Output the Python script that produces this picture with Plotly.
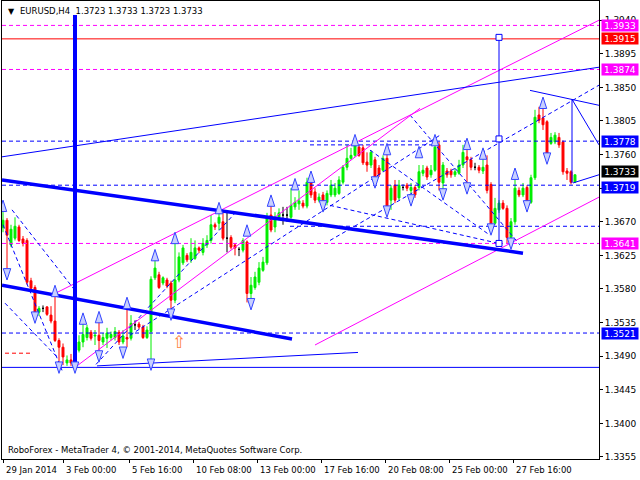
import plotly.graph_objects as go

# ---------------- data ----------------
opens = [1.3662,1.3672,1.3639,1.3648,1.3663,1.3647,1.3645,1.3591,1.3582,1.3549,
         1.3554,1.3556,1.3545,1.3537,1.3511,1.3502,1.3481,1.3485,1.3482,1.3498,
         1.3509,1.3515,1.3522,1.3517,1.3518,1.3509,1.3514,1.3515,1.3515,1.3522,
         1.3509,1.3515,1.3514,1.3532,1.3533,1.3529,1.3515,1.3523,1.3595,1.3599,
         1.3588,1.3592,1.3588,1.3565,1.3592,1.3615,1.3625,1.3619,1.3621,1.3635,
         1.3629,1.3639,1.3645,1.3666,1.3668,1.3670,1.3648,1.3649,1.3639,1.3633,
         1.3632,1.3643,1.3574,1.3582,1.3589,1.3605,1.3615,1.3679,1.3663,1.3676,
         1.3679,1.3679,1.3676,1.3690,1.3694,1.3695,1.3691,1.3723,1.3710,1.3699,
         1.3706,1.3696,1.3706,1.3706,1.3708,1.3723,1.3743,1.3755,1.3759,1.3770,
         1.3769,1.3750,1.3746,1.3753,1.3742,1.3739,1.3755,1.3699,1.3719,1.3702,
         1.3716,1.3719,1.3712,1.3716,1.3716,1.3735,1.3742,1.3733,1.3739,1.3773,
         1.3722,1.3738,1.3738,1.3733,1.3735,1.3746,1.3757,1.3753,1.3743,1.3743,
         1.3738,1.3746,1.3720,1.3668,1.3686,1.3695,1.3688,1.3649,1.3670,1.3712,
         1.3706,1.3716,1.3696,1.3729,1.3813,1.3809,1.3804,1.3775,1.3777,1.3783,
         1.3777,1.3738,1.3737,1.3723]
highs = [1.3683,1.3675,1.3666,1.3676,1.3666,1.3651,1.3648,1.3595,1.3585,1.3557,
         1.3558,1.3557,1.3557,1.3572,1.3514,1.3507,1.3491,1.3493,1.3511,1.3518,
         1.3534,1.3532,1.3525,1.3525,1.3538,1.3521,1.3528,1.3523,1.3529,1.3525,
         1.3525,1.3554,1.3545,1.3538,1.3536,1.3532,1.3530,1.3597,1.3619,1.3603,
         1.3597,1.3595,1.3591,1.3645,1.3629,1.3639,1.3628,1.3648,1.3645,1.3637,
         1.3648,1.3652,1.3679,1.3669,1.3686,1.3682,1.3682,1.3652,1.3641,1.3636,
         1.3648,1.3645,1.3596,1.3603,1.3616,1.3623,1.3682,1.3692,1.3683,1.3688,
         1.3690,1.3690,1.3715,1.3703,1.3712,1.3699,1.3729,1.3729,1.3715,1.3708,
         1.3710,1.3712,1.3726,1.3722,1.3731,1.3746,1.3773,1.3769,1.3782,1.3773,
         1.3773,1.3763,1.3766,1.3757,1.3746,1.3759,1.3763,1.3719,1.3726,1.3726,
         1.3720,1.3722,1.3722,1.3719,1.3746,1.3746,1.3745,1.3746,1.3775,1.3777,
         1.3750,1.3742,1.3741,1.3741,1.3753,1.3773,1.3766,1.3757,1.3749,1.3746,
         1.3757,1.3759,1.3723,1.3702,1.3699,1.3699,1.3692,1.3675,1.3729,1.3716,
         1.3722,1.3719,1.3733,1.3820,1.3824,1.3826,1.3806,1.3789,1.3790,1.3789,
         1.3779,1.3742,1.3739,1.3733]
lows = [1.3656,1.3601,1.3636,1.3645,1.3643,1.3637,1.3586,1.3576,1.3542,1.3544,
        1.3549,1.3544,1.3534,1.3509,1.3478,1.3478,1.3477,1.3477,1.3475,1.3495,
        1.3502,1.3511,1.3511,1.3505,1.3494,1.3505,1.3501,1.3511,1.3511,1.3505,
        1.3506,1.3502,1.3511,1.3525,1.3526,1.3513,1.3513,1.3482,1.3592,1.3580,
        1.3585,1.3581,1.3549,1.3561,1.3589,1.3612,1.3616,1.3615,1.3619,1.3628,
        1.3625,1.3635,1.3641,1.3659,1.3659,1.3645,1.3629,1.3633,1.3625,1.3624,
        1.3629,1.3562,1.3562,1.3579,1.3585,1.3603,1.3612,1.3656,1.3656,1.3672,
        1.3666,1.3670,1.3674,1.3686,1.3686,1.3688,1.3688,1.3702,1.3695,1.3696,
        1.3692,1.3692,1.3703,1.3703,1.3706,1.3720,1.3739,1.3753,1.3757,1.3757,
        1.3746,1.3737,1.3742,1.3726,1.3730,1.3737,1.3682,1.3686,1.3695,1.3699,
        1.3712,1.3711,1.3708,1.3702,1.3712,1.3731,1.3726,1.3729,1.3737,1.3712,
        1.3708,1.3729,1.3729,1.3730,1.3733,1.3742,1.3716,1.3739,1.3739,1.3735,
        1.3734,1.3708,1.3660,1.3666,1.3682,1.3686,1.3641,1.3645,1.3666,1.3703,
        1.3703,1.3692,1.3694,1.3726,1.3802,1.3793,1.3753,1.3773,1.3774,1.3769,
        1.3733,1.3726,1.3720,1.3723]
closes = [1.3672,1.3652,1.3660,1.3664,1.3645,1.3641,1.3589,1.3581,1.3549,1.3554,
          1.3554,1.3546,1.3537,1.3511,1.3502,1.3489,1.3485,1.3481,1.3507,1.3509,
          1.3519,1.3528,1.3514,1.3518,1.3511,1.3515,1.3521,1.3519,1.3523,1.3509,
          1.3517,1.3513,1.3534,1.3532,1.3529,1.3515,1.3525,1.3593,1.3608,1.3582,
          1.3595,1.3584,1.3565,1.3592,1.3623,1.3635,1.3619,1.3629,1.3635,1.3632,
          1.3641,1.3645,1.3666,1.3663,1.3676,1.3648,1.3648,1.3636,1.3635,1.3633,
          1.3645,1.3574,1.3585,1.3596,1.3608,1.3616,1.3676,1.3659,1.3676,1.3682,
          1.3679,1.3679,1.3692,1.3696,1.3698,1.3691,1.3723,1.3706,1.3699,1.3703,
          1.3696,1.3708,1.3719,1.3715,1.3726,1.3743,1.3755,1.3759,1.3773,1.3759,
          1.3749,1.3746,1.3763,1.3730,1.3733,1.3755,1.3686,1.3715,1.3699,1.3719,
          1.3716,1.3715,1.3716,1.3706,1.3737,1.3739,1.3730,1.3739,1.3770,1.3723,
          1.3746,1.3733,1.3733,1.3737,1.3746,1.3763,1.3753,1.3743,1.3743,1.3739,
          1.3743,1.3712,1.3663,1.3688,1.3695,1.3688,1.3649,1.3670,1.3715,1.3706,
          1.3715,1.3696,1.3729,1.3810,1.3806,1.3800,1.3757,1.3783,1.3786,1.3773,
          1.3737,1.3735,1.3723,1.3733]
doji_bars = [10, 33, 56, 59, 70, 71, 100, 118]

x_tick_pos = [0, 15, 31.5, 47.5, 63.5, 79.5, 95.5, 111.5, 127.5]
x_tick_text = ["29 Jan 2014", "3 Feb 00:00", "5 Feb 16:00", "10 Feb 08:00", "13 Feb 00:00",
               "17 Feb 16:00", "20 Feb 08:00", "25 Feb 00:00", "27 Feb 16:00"]
y_tick_vals = [1.3940, 1.3895, 1.3850, 1.3805, 1.3760, 1.3715, 1.3670, 1.3625,
               1.3580, 1.3535, 1.3490, 1.3445, 1.3400, 1.3355]

# horizontal levels (full width)
level_prices = [1.3933, 1.3915, 1.3874, 1.3778, 1.3719, 1.3641, 1.3521, 1.3475]
level_colors = ["#ff00ff", "#ff0000", "#ff00ff", "#0000ff", "#0000ff", "#ff00ff", "#0000ff", "#0000ff"]
level_dash = ["dash", "solid", "dash", "dash", "dash", "dash", "dash", "solid"]

# price labels on the right axis
tag_prices = [1.3933, 1.3915, 1.3874, 1.3778, 1.3733, 1.3719, 1.3641, 1.3521]
tag_colors = ["#ff00ff", "#ff0000", "#ff00ff", "#0000ff", "#000000", "#0000ff", "#ff00ff", "#0000ff"]
tag_nudge = [0, 0, 0, 0, 3, -2, 0, 0]

# trend / channel segments: (bar0, price0, bar1, price1)
thick_blue = [(-0.25, 1.3726, 130.0, 1.3628), (-0.25, 1.3585, 72.25, 1.3513)]
thin_blue = [(-0.25, 1.3757, 149.0, 1.3877), (23.5, 1.3477, 88.75, 1.3495),
             (131.75, 1.3846, 149.0, 1.3826), (142.25, 1.3834, 149.0, 1.3773),
             (142.25, 1.3834, 142.25, 1.3722), (142.5, 1.3722, 149.0, 1.3733),
             (124.0, 1.3917, 124.0, 1.3641)]
magenta = [(13.0, 1.3574, 149.0, 1.3940), (18.5, 1.3477, 104.25, 1.3822),
           (78.0, 1.3505, 149.0, 1.3703)]
blue_dashed = [(71.75, 1.3664, 149.0, 1.3664), (76.75, 1.3773, 108.0, 1.3773),
               (2.25, 1.3686, 18.0, 1.3578), (0.0, 1.3666, 14.75, 1.3471),
               (0.5, 1.3561, 13.5, 1.3489), (23.25, 1.3479, 58.25, 1.3683),
               (31.75, 1.3518, 109.25, 1.3786), (81.75, 1.3645, 149.0, 1.3853),
               (101.75, 1.3813, 129.25, 1.3639), (81.75, 1.3692, 124.0, 1.3641),
               (91.75, 1.3766, 121.75, 1.3652)]
red_dashed = [(0.5, 1.3494, 7.25, 1.3494)]
pitch_vertical_bar = 124.0
pitch_points = [1.3917, 1.3781, 1.3641]
vertical_bar = 18.0
vertical_span = (1.3475, 1.3947)

# fractal arrows (bar, price)
up_bars = [0, 13, 20, 24, 31, 38, 43, 54, 61, 67, 73, 77, 88, 96, 104, 108, 116, 120, 128, 135]
up_prices = [1.3699, 1.3585, 1.3548, 1.3550, 1.3569, 1.3633, 1.3656, 1.3696, 1.3666, 1.3706,
             1.3728, 1.3738, 1.3787, 1.3775, 1.3771, 1.3787, 1.3782, 1.3769, 1.3742, 1.3837]
down_bars = [1, 8, 14, 18, 24, 30, 37, 42, 62, 80, 93, 96, 102, 110, 116, 122, 127, 131, 136]
down_prices = [1.3592, 1.3534, 1.3467, 1.3467, 1.3482, 1.3487, 1.3471, 1.3538, 1.3552, 1.3683,
               1.3715, 1.3676, 1.3691, 1.3699, 1.3707, 1.3652, 1.3633, 1.3683, 1.3747]
buy_arrow = (44, 1.3509)

X0, X1 = -0.25, 149.0
Y0, Y1 = 1.33523, 1.39657
FONT = "DejaVu Sans"

fig = go.Figure()

# horizontal levels
for p, c, d in zip(level_prices, level_colors, level_dash):
    fig.add_trace(go.Scatter(x=[X0, X1], y=[p, p], mode="lines",
                             line=dict(color=c, width=1, dash="4px,3px" if d == "dash" else "solid"),
                             hoverinfo="skip", showlegend=False))

def add_segments(segs, color, width, dash="solid"):
    xs, ys = [], []
    for a, b, c, d in segs:
        xs += [a, c, None]
        ys += [b, d, None]
    fig.add_trace(go.Scatter(x=xs, y=ys, mode="lines", line=dict(color=color, width=width, dash=dash),
                             hoverinfo="skip", showlegend=False))

add_segments(blue_dashed, "#0000ff", 1, "4px,3px")
add_segments(red_dashed, "#ff0000", 1, "4px,3px")
add_segments(magenta, "#ff00ff", 1)
add_segments(thin_blue, "#0000ff", 1)

# candles
reg_idx = [i for i in range(len(opens)) if i not in doji_bars]
fig.add_trace(go.Candlestick(
    x=reg_idx, open=[opens[i] for i in reg_idx], high=[highs[i] for i in reg_idx],
    low=[lows[i] for i in reg_idx], close=[closes[i] for i in reg_idx],
    increasing=dict(line=dict(color="#00ee00", width=1), fillcolor="#00ee00"),
    decreasing=dict(line=dict(color="#ff0000", width=1), fillcolor="#ff0000"),
    whiskerwidth=0, hoverinfo="skip", showlegend=False))
fig.add_trace(go.Candlestick(
    x=doji_bars, open=[opens[i] for i in doji_bars], high=[highs[i] for i in doji_bars],
    low=[lows[i] for i in doji_bars], close=[closes[i] for i in doji_bars],
    increasing=dict(line=dict(color="#000000", width=1), fillcolor="#000000"),
    decreasing=dict(line=dict(color="#000000", width=1), fillcolor="#000000"),
    whiskerwidth=0, hoverinfo="skip", showlegend=False))

# thick lines on top
add_segments(thick_blue, "#0000ff", 3.5)
fig.add_trace(go.Scatter(x=[vertical_bar, vertical_bar], y=list(vertical_span), mode="lines",
                         line=dict(color="#0000ff", width=4), hoverinfo="skip", showlegend=False))
fig.add_trace(go.Scatter(x=[pitch_vertical_bar] * 3, y=pitch_points, mode="markers",
                         marker=dict(symbol="square", size=6, color="white",
                                     line=dict(color="#0000ff", width=1)),
                         hoverinfo="skip", showlegend=False))

# fractals
fig.add_trace(go.Scatter(x=up_bars, y=up_prices, mode="markers",
                         marker=dict(symbol="arrow", size=12, angle=0, color="#c8d0ff",
                                     line=dict(color="#3344ff", width=1)),
                         hoverinfo="skip", showlegend=False))
fig.add_trace(go.Scatter(x=down_bars, y=down_prices, mode="markers",
                         marker=dict(symbol="arrow", size=12, angle=180, color="#c8d0ff",
                                     line=dict(color="#3344ff", width=1)),
                         hoverinfo="skip", showlegend=False))

annotations = []
annotations.append(dict(x=buy_arrow[0], y=buy_arrow[1], xref="x", yref="y", text="⇧",
                        showarrow=False, font=dict(family=FONT, size=17, color="#ff8040")))
# price tags
for p, c, n in zip(tag_prices, tag_colors, tag_nudge):
    annotations.append(dict(x=1, y=p, xref="paper", yref="y", xanchor="left", yanchor="middle",
                            xshift=2, yshift=n, text=f"{p:.4f}", showarrow=False, bgcolor=c,
                            borderpad=0, height=11, width=36, align="center",
                            font=dict(family=FONT, size=9, color="white")))
# time labels
for xv, t in zip(x_tick_pos, x_tick_text):
    annotations.append(dict(x=xv, y=0, xref="x", yref="paper", xanchor="left", yanchor="middle",
                            yshift=-11, xshift=1, text=t, showarrow=False,
                            font=dict(family=FONT, size=8.5, color="black")))
annotations.append(dict(x=0, y=1, xref="paper", yref="paper", xanchor="left", yanchor="middle",
                        xshift=4, yshift=-10, text="▼", showarrow=False,
                        font=dict(family=FONT, size=8, color="black")))
annotations.append(dict(x=0, y=1, xref="paper", yref="paper", xanchor="left", yanchor="middle",
                        xshift=16, yshift=-10,
                        text="EURUSD,H4  1.3723 1.3733 1.3723 1.3733", showarrow=False,
                        font=dict(family=FONT, size=8.5, color="black")))
annotations.append(dict(x=0, y=0, xref="paper", yref="paper", xanchor="left", yanchor="middle",
                        xshift=4, yshift=9,
                        text="RoboForex - MetaTrader 4, © 2001-2014, MetaQuotes Software Corp.",
                        showarrow=False, font=dict(family=FONT, size=8.5, color="black")))

fig.update_layout(
    width=640, height=480, margin=dict(l=2, r=41, t=1, b=21),
    paper_bgcolor="white", plot_bgcolor="white", showlegend=False,
    annotations=annotations,
    xaxis=dict(range=[X0, X1], showgrid=False, zeroline=False, rangeslider=dict(visible=False),
               tickvals=x_tick_pos, ticktext=[""] * len(x_tick_pos), ticks="outside", ticklen=3,
               tickcolor="black", showline=True, linecolor="black", linewidth=1, mirror=True),
    yaxis=dict(range=[Y0, Y1], side="right", showgrid=False, zeroline=False,
               tickvals=y_tick_vals, ticktext=[f"{v:.4f}" for v in y_tick_vals],
               ticks="outside", ticklen=3, tickcolor="black",
               tickfont=dict(family=FONT, size=9, color="black"),
               showline=True, linecolor="black", linewidth=1, mirror=True),
)

fig.write_html("out.html", config={"displayModeBar": False},
               post_script="document.body.style.margin='0px';document.body.style.overflow='hidden';")
